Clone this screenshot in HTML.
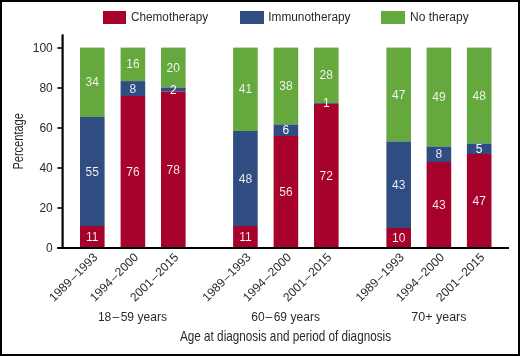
<!DOCTYPE html>
<html><head><meta charset="utf-8"><style>
html,body{margin:0;padding:0;background:#fff;}
body{width:520px;height:356px;overflow:hidden;position:relative;}
svg{position:absolute;left:0;top:0;display:block;will-change:transform;}
text{font-family:"Liberation Sans",sans-serif;fill:#2a2a2a;}
.bl{font-size:12px;fill:#fff;text-anchor:middle;}
.tk{font-size:12px;text-anchor:end;}
.xl{font-size:12.1px;text-anchor:end;}
.gl{font-size:12px;text-anchor:middle;}
.lg{font-size:12px;}
</style></head><body>
<svg width="520" height="356" viewBox="0 0 520 356">
<rect x="0" y="0" width="520" height="356" fill="#fff"/>
<rect x="103" y="11" width="23" height="13" fill="rgb(166,2,44)"/>
<text x="131" y="20.8" class="lg" textLength="77.1" lengthAdjust="spacingAndGlyphs">Chemotherapy</text>
<rect x="240" y="11" width="24" height="13" fill="rgb(47,77,128)"/>
<text x="268.3" y="20.8" class="lg" textLength="82.2" lengthAdjust="spacingAndGlyphs">Immunotherapy</text>
<rect x="381" y="11" width="24" height="13" fill="rgb(101,168,61)"/>
<text x="410" y="20.8" class="lg">No therapy</text>
<rect x="80.0" y="47.6" width="24.6" height="69.40" fill="rgb(101,168,61)"/>
<rect x="80.0" y="117.0" width="24.6" height="109.00" fill="rgb(47,77,128)"/>
<rect x="80.0" y="226.0" width="24.6" height="21.50" fill="rgb(166,2,44)"/>
<text x="92.30" y="240.75" class="bl" stroke="rgb(166,2,44)" stroke-width="0.12">11</text>
<text x="92.30" y="175.50" class="bl" stroke="rgb(47,77,128)" stroke-width="0.12">55</text>
<text x="92.30" y="86.30" class="bl" stroke="rgb(101,168,61)" stroke-width="0.12">34</text>
<rect x="120.6" y="47.6" width="24.6" height="33.50" fill="rgb(101,168,61)"/>
<rect x="120.6" y="81.1" width="24.6" height="14.90" fill="rgb(47,77,128)"/>
<rect x="120.6" y="96.0" width="24.6" height="151.50" fill="rgb(166,2,44)"/>
<text x="132.90" y="175.75" class="bl" stroke="rgb(166,2,44)" stroke-width="0.12">76</text>
<text x="132.90" y="92.55" class="bl" stroke="rgb(47,77,128)" stroke-width="0.12">8</text>
<text x="132.90" y="68.35" class="bl" stroke="rgb(101,168,61)" stroke-width="0.12">16</text>
<rect x="161.0" y="47.6" width="24.6" height="39.90" fill="rgb(101,168,61)"/>
<rect x="161.0" y="87.5" width="24.6" height="4.00" fill="rgb(47,77,128)"/>
<rect x="161.0" y="91.5" width="24.6" height="156.00" fill="rgb(166,2,44)"/>
<text x="173.30" y="173.50" class="bl" stroke="rgb(166,2,44)" stroke-width="0.12">78</text>
<text x="173.30" y="93.50" class="bl">2</text>
<text x="173.30" y="71.55" class="bl" stroke="rgb(101,168,61)" stroke-width="0.12">20</text>
<rect x="233.1" y="47.6" width="24.6" height="83.40" fill="rgb(101,168,61)"/>
<rect x="233.1" y="131.0" width="24.6" height="95.00" fill="rgb(47,77,128)"/>
<rect x="233.1" y="226.0" width="24.6" height="21.50" fill="rgb(166,2,44)"/>
<text x="245.40" y="240.75" class="bl" stroke="rgb(166,2,44)" stroke-width="0.12">11</text>
<text x="245.40" y="182.50" class="bl" stroke="rgb(47,77,128)" stroke-width="0.12">48</text>
<text x="245.40" y="93.30" class="bl" stroke="rgb(101,168,61)" stroke-width="0.12">41</text>
<rect x="273.6" y="47.6" width="24.6" height="76.90" fill="rgb(101,168,61)"/>
<rect x="273.6" y="124.5" width="24.6" height="11.50" fill="rgb(47,77,128)"/>
<rect x="273.6" y="136.0" width="24.6" height="111.50" fill="rgb(166,2,44)"/>
<text x="285.90" y="195.75" class="bl" stroke="rgb(166,2,44)" stroke-width="0.12">56</text>
<text x="285.90" y="134.25" class="bl">6</text>
<text x="285.90" y="90.05" class="bl" stroke="rgb(101,168,61)" stroke-width="0.12">38</text>
<rect x="314.0" y="47.6" width="24.6" height="55.40" fill="rgb(101,168,61)"/>
<rect x="314.0" y="103.0" width="24.6" height="0.80" fill="rgb(47,77,128)"/>
<rect x="314.0" y="103.8" width="24.6" height="143.70" fill="rgb(166,2,44)"/>
<text x="326.30" y="179.65" class="bl" stroke="rgb(166,2,44)" stroke-width="0.12">72</text>
<text x="326.30" y="107.40" class="bl">1</text>
<text x="326.30" y="79.30" class="bl" stroke="rgb(101,168,61)" stroke-width="0.12">28</text>
<rect x="386.4" y="47.6" width="24.6" height="93.90" fill="rgb(101,168,61)"/>
<rect x="386.4" y="141.5" width="24.6" height="86.50" fill="rgb(47,77,128)"/>
<rect x="386.4" y="228.0" width="24.6" height="19.50" fill="rgb(166,2,44)"/>
<text x="398.70" y="241.75" class="bl" stroke="rgb(166,2,44)" stroke-width="0.12">10</text>
<text x="398.70" y="188.75" class="bl" stroke="rgb(47,77,128)" stroke-width="0.12">43</text>
<text x="398.70" y="98.55" class="bl" stroke="rgb(101,168,61)" stroke-width="0.12">47</text>
<rect x="426.6" y="47.6" width="24.6" height="98.90" fill="rgb(101,168,61)"/>
<rect x="426.6" y="146.5" width="24.6" height="15.50" fill="rgb(47,77,128)"/>
<rect x="426.6" y="162.0" width="24.6" height="85.50" fill="rgb(166,2,44)"/>
<text x="438.90" y="208.75" class="bl" stroke="rgb(166,2,44)" stroke-width="0.12">43</text>
<text x="438.90" y="158.25" class="bl" stroke="rgb(47,77,128)" stroke-width="0.12">8</text>
<text x="438.90" y="101.05" class="bl" stroke="rgb(101,168,61)" stroke-width="0.12">49</text>
<rect x="466.9" y="47.6" width="24.6" height="95.90" fill="rgb(101,168,61)"/>
<rect x="466.9" y="143.5" width="24.6" height="10.50" fill="rgb(47,77,128)"/>
<rect x="466.9" y="154.0" width="24.6" height="93.50" fill="rgb(166,2,44)"/>
<text x="479.20" y="204.75" class="bl" stroke="rgb(166,2,44)" stroke-width="0.12">47</text>
<text x="479.20" y="152.75" class="bl">5</text>
<text x="479.20" y="99.55" class="bl" stroke="rgb(101,168,61)" stroke-width="0.12">48</text>
<line x1="62.6" y1="34.4" x2="62.6" y2="249" stroke="#000" stroke-width="2.2"/>
<line x1="57.3" y1="248" x2="509" y2="248" stroke="#000" stroke-width="1.8"/>
<line x1="57.3" y1="48" x2="62.5" y2="48" stroke="#000" stroke-width="1.6"/>
<text x="52.8" y="52.2" class="tk">100</text>
<line x1="57.3" y1="88" x2="62.5" y2="88" stroke="#000" stroke-width="1.6"/>
<text x="52.8" y="92.2" class="tk">80</text>
<line x1="57.3" y1="128" x2="62.5" y2="128" stroke="#000" stroke-width="1.6"/>
<text x="52.8" y="132.2" class="tk">60</text>
<line x1="57.3" y1="168" x2="62.5" y2="168" stroke="#000" stroke-width="1.6"/>
<text x="52.8" y="172.2" class="tk">40</text>
<line x1="57.3" y1="208" x2="62.5" y2="208" stroke="#000" stroke-width="1.6"/>
<text x="52.8" y="212.2" class="tk">20</text>
<line x1="57.3" y1="248" x2="62.5" y2="248" stroke="#000" stroke-width="1.6"/>
<text x="52.8" y="252.2" class="tk">0</text>
<text transform="translate(98.30,258) rotate(-45)" class="xl">1989<tspan dx="1.0">–</tspan><tspan dx="1.0">1993</tspan></text>
<text transform="translate(138.90,258) rotate(-45)" class="xl">1994<tspan dx="1.0">–</tspan><tspan dx="1.0">2000</tspan></text>
<text transform="translate(179.30,258) rotate(-45)" class="xl">2001<tspan dx="1.0">–</tspan><tspan dx="1.0">2015</tspan></text>
<text transform="translate(251.40,258) rotate(-45)" class="xl">1989<tspan dx="1.0">–</tspan><tspan dx="1.0">1993</tspan></text>
<text transform="translate(291.90,258) rotate(-45)" class="xl">1994<tspan dx="1.0">–</tspan><tspan dx="1.0">2000</tspan></text>
<text transform="translate(332.30,258) rotate(-45)" class="xl">2001<tspan dx="1.0">–</tspan><tspan dx="1.0">2015</tspan></text>
<text transform="translate(404.70,258) rotate(-45)" class="xl">1989<tspan dx="1.0">–</tspan><tspan dx="1.0">1993</tspan></text>
<text transform="translate(444.90,258) rotate(-45)" class="xl">1994<tspan dx="1.0">–</tspan><tspan dx="1.0">2000</tspan></text>
<text transform="translate(485.20,258) rotate(-45)" class="xl">2001<tspan dx="1.0">–</tspan><tspan dx="1.0">2015</tspan></text>
<text y="321.3" class="lg"><tspan x="97.95">18</tspan><tspan x="112.55">–</tspan><tspan x="120.65">59</tspan><tspan x="137.60">years</tspan></text>
<text y="321.3" class="lg"><tspan x="251.25">60</tspan><tspan x="265.55">–</tspan><tspan x="273.65">69</tspan><tspan x="290.60">years</tspan></text>
<text x="438.90" y="321.3" class="gl" textLength="55.2" lengthAdjust="spacingAndGlyphs">70+ years</text>
<text x="180" y="340.9" style="font-size:14.5px" textLength="211" lengthAdjust="spacingAndGlyphs">Age at diagnosis and period of diagnosis</text>
<text transform="translate(23.4,169.6) rotate(-90)" style="font-size:14px" textLength="56.5" lengthAdjust="spacingAndGlyphs">Percentage</text>
<rect x="1" y="1" width="518" height="354" fill="none" stroke="#000" stroke-width="2"/>
</svg>
</body></html>
